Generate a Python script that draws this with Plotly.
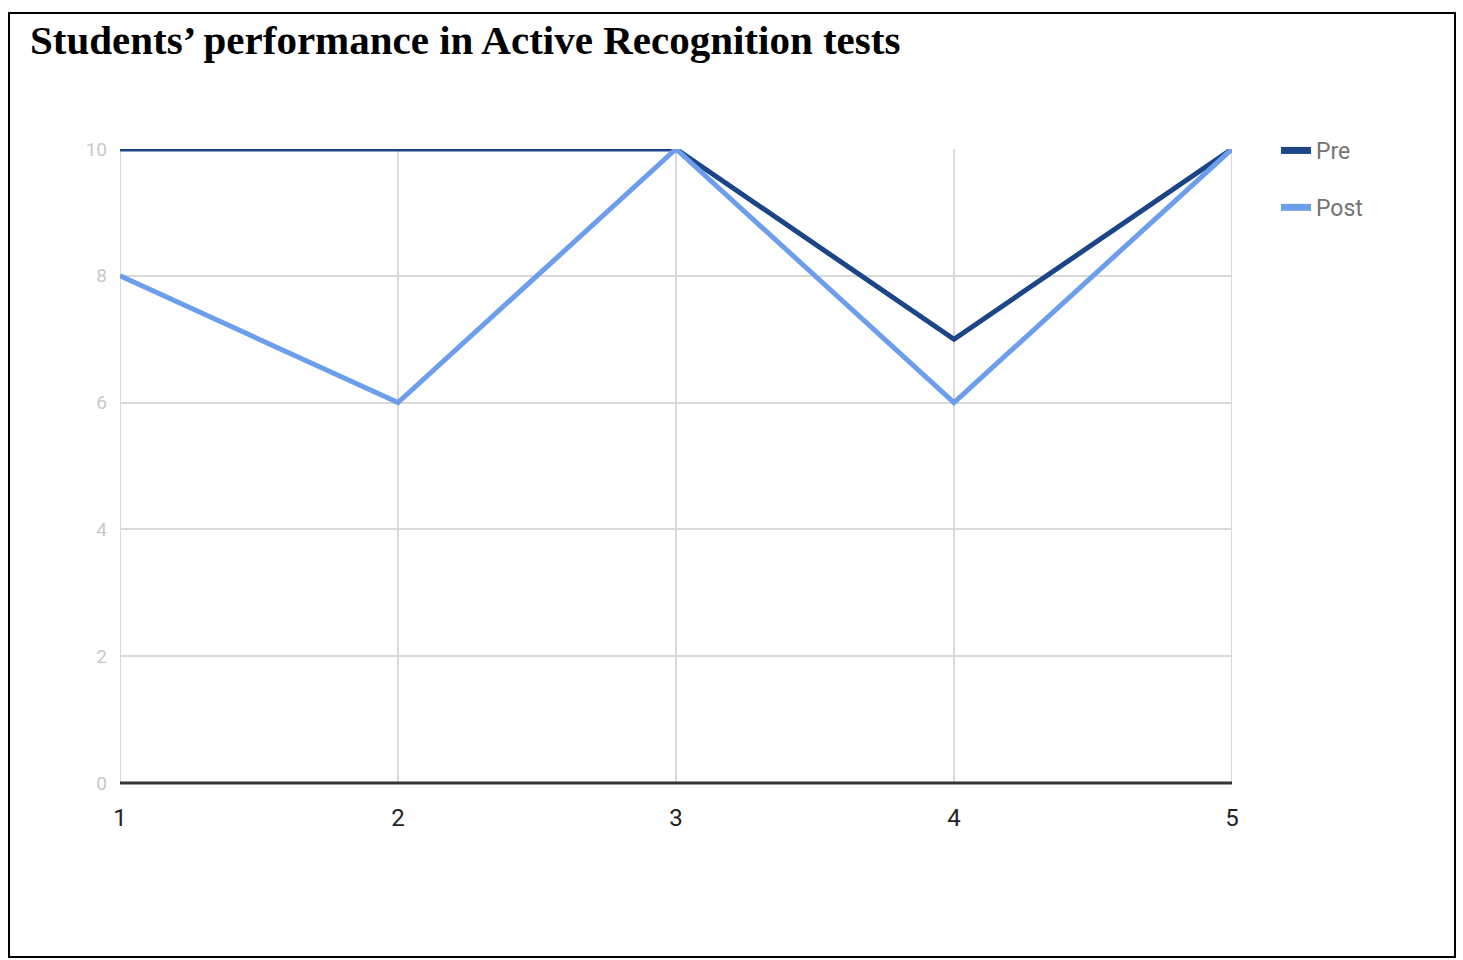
import plotly.graph_objects as go

tests = [1, 2, 3, 4, 5]
pre = [10, 10, 10, 7, 10]
post = [8, 6, 10, 6, 10]
title = "Students’ performance in Active Recognition tests"

W, H = 1463, 960
L, R, T, B = 120, 1232, 149, 783
PRE_C, POST_C = "#1c4587", "#6d9eeb"

fig = go.Figure()
fig.add_trace(go.Scatter(x=tests, y=pre, mode="lines", name="Pre", showlegend=False,
                         line=dict(color=PRE_C, width=5)))
fig.add_trace(go.Scatter(x=tests, y=post, mode="lines", name="Post", showlegend=False,
                         line=dict(color=POST_C, width=5)))
# legend entries (thicker swatches like the reference)
fig.add_trace(go.Scatter(x=[None], y=[None], mode="lines", name="Pre",
                         line=dict(color=PRE_C, width=7), legendgroup="a"))
fig.add_trace(go.Scatter(x=[None], y=[None], mode="lines", name="Post",
                         line=dict(color=POST_C, width=7), legendgroup="b"))

def px(x):
    return (x - L) / (R - L)

def py(y):
    return (B - y) / (B - T)

fig.add_shape(type="rect", xref="paper", yref="paper",
              x0=px(9), x1=px(1455), y0=py(957), y1=py(13),
              line=dict(color="black", width=2), fillcolor="rgba(0,0,0,0)", layer="below")
for xv in (tests[0], tests[-1]):
    fig.add_shape(type="line", xref="x", yref="paper", x0=xv, x1=xv, y0=0, y1=1,
                  line=dict(color="#d9d9d9", width=2), layer="below")

fig.update_layout(
    width=W, height=H,
    margin=dict(l=L, r=W - R, t=T, b=H - B, autoexpand=False),
    paper_bgcolor="white", plot_bgcolor="white",
    title=dict(text="<b>" + title + "</b>", x=30 / W, xanchor="left", xref="container",
               y=1 - 40 / H, yanchor="middle", yref="container",
               font=dict(family="Liberation Serif", size=41, color="black")),
    legend=dict(x=px(1276), y=py(129), xanchor="left", yanchor="top",
                font=dict(family="Roboto", size=23, color="#757575"),
                tracegroupgap=24, itemwidth=30, bgcolor="rgba(0,0,0,0)"),
    xaxis=dict(range=[1, 5], tickvals=tests, ticktext=[str(t) for t in tests],
               showgrid=True, gridcolor="#d9d9d9", gridwidth=2,
               showline=False, zeroline=False, ticks="", ticklabelstandoff=18,
               tickfont=dict(family="Roboto", size=24, color="#222222")),
    yaxis=dict(range=[0, 10], tickvals=[0, 2, 4, 6, 8, 10],
               showgrid=True, gridcolor="#d9d9d9", gridwidth=2,
               zeroline=False, showline=False, ticks="", ticklabelstandoff=12,
               tickfont=dict(family="Roboto", size=19, color="#c8c8c8")),
    showlegend=True,
)
fig.add_shape(type="line", xref="paper", yref="paper", x0=0, x1=1, y0=0, y1=0,
              line=dict(color="#333333", width=3))
fig.write_html("out.html", config={"displayModeBar": False},
               post_script="document.body.style.margin='0';")
